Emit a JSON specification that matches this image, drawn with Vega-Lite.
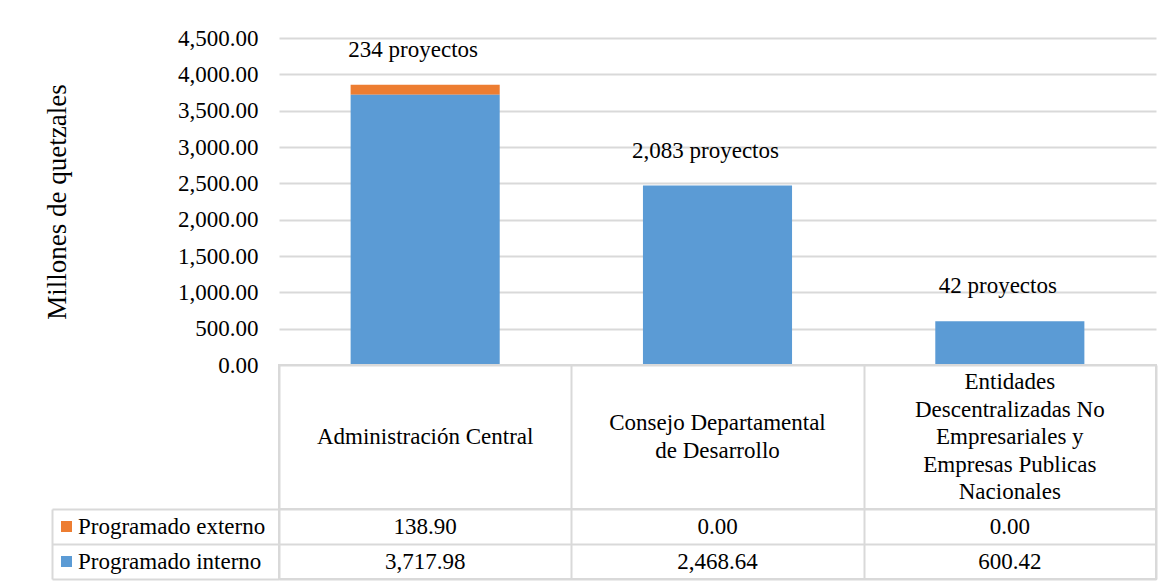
{
  "$schema": "https://vega.github.io/schema/vega-lite/v6.json",
  "padding": {"left": 43, "top": 27, "right": 0, "bottom": 0},
  "background": "white",
  "config": {"font": "Liberation Serif", "view": {"stroke": null}},
  "datasets": {
    "d": [
      {"cat": "Administración Central", "serie": "Programado externo", "value": 138.90, "proyectos": "234 proyectos"},
      {"cat": "Administración Central", "serie": "Programado interno", "value": 3717.98, "proyectos": "234 proyectos"},
      {"cat": "Consejo Departamental\nde Desarrollo", "serie": "Programado externo", "value": 0.00, "proyectos": "2,083 proyectos"},
      {"cat": "Consejo Departamental\nde Desarrollo", "serie": "Programado interno", "value": 2468.64, "proyectos": "2,083 proyectos"},
      {"cat": "Entidades\nDescentralizadas No\nEmpresariales y\nEmpresas Publicas\nNacionales", "serie": "Programado externo", "value": 0.00, "proyectos": "42 proyectos"},
      {"cat": "Entidades\nDescentralizadas No\nEmpresariales y\nEmpresas Publicas\nNacionales", "serie": "Programado interno", "value": 600.42, "proyectos": "42 proyectos"}
    ]
  },
  "spacing": 0,
  "bounds": "flush",
  "resolve": {"scale": {"x": "independent", "y": "independent"}, "legend": {"color": "independent"}},
  "vconcat": [
    {
      "width": 877,
      "height": 327,
      "data": {"name": "d"},
      "layer": [
        {
          "mark": {"type": "bar"},
          "encoding": {
            "x": {"field": "cat", "type": "nominal", "scale": {"domain": ["Administración Central", "Consejo Departamental\nde Desarrollo", "Entidades\nDescentralizadas No\nEmpresariales y\nEmpresas Publicas\nNacionales"], "paddingInner": 0.49, "paddingOuter": 0.245}, "axis": null},
            "y": {"field": "value", "type": "quantitative", "stack": "zero", "scale": {"domain": [0, 4500], "nice": false},
              "axis": {"values": [0, 500, 1000, 1500, 2000, 2500, 3000, 3500, 4000, 4500], "format": ",.2f", "domain": false, "ticks": false, "grid": true, "gridColor": "#d9d9d9", "gridWidth": 2, "labelFont": "Liberation Serif", "labelFontSize": 23, "labelColor": "#000000", "labelPadding": 21, "labelOverlap": false, "title": "Millones de quetzales", "titleFont": "Liberation Serif", "titleFontSize": 27, "titleFontWeight": "normal", "titleColor": "#000000", "titlePadding": 106}},
            "color": {"field": "serie", "type": "nominal", "scale": {"domain": ["Programado externo", "Programado interno"], "range": ["#ED7D31", "#5B9BD5"]}, "legend": null},
            "order": {"field": "serie", "sort": "descending"}
          }
        },
        {
          "transform": [{"aggregate": [{"op": "sum", "field": "value", "as": "total"}], "groupby": ["cat", "proyectos"]}],
          "mark": {"type": "text", "dy": -35, "dx": -12, "fontSize": 23, "baseline": "middle", "color": "#000000"},
          "encoding": {
            "x": {"field": "cat", "type": "nominal"},
            "y": {"field": "total", "type": "quantitative", "scale": {"domain": [0, 4500], "nice": false},
              "axis": {"values": [0, 500, 1000, 1500, 2000, 2500, 3000, 3500, 4000, 4500], "format": ",.2f", "domain": false, "ticks": false, "grid": true, "gridColor": "#d9d9d9", "gridWidth": 2, "labelFont": "Liberation Serif", "labelFontSize": 23, "labelColor": "#000000", "labelPadding": 21, "labelOverlap": false, "title": "Millones de quetzales", "titleFont": "Liberation Serif", "titleFontSize": 27, "titleFontWeight": "normal", "titleColor": "#000000", "titlePadding": 106}},
            "text": {"field": "proyectos"}
          }
        }
      ]
    },
    {
      "width": 877,
      "height": 144,
      "view": {"stroke": "#d9d9d9", "strokeWidth": 2},
      "data": {"name": "d"},
      "transform": [
        {"filter": {"field": "serie", "equal": "Programado interno"}},
        {"calculate": "length(split(datum.cat, '\\n'))", "as": "lineas"}
      ],
      "mark": {"type": "text", "fontSize": 23, "lineBreak": "\n", "lineHeight": 27.5, "baseline": "middle", "color": "#000000"},
      "encoding": {
        "x": {"field": "cat", "type": "nominal", "scale": {"domain": ["Administración Central", "Consejo Departamental\nde Desarrollo", "Entidades\nDescentralizadas No\nEmpresariales y\nEmpresas Publicas\nNacionales"], "paddingInner": 0, "paddingOuter": 0},
          "axis": {"orient": "bottom", "title": null, "labels": false, "ticks": true, "tickSize": -144, "tickColor": "#d9d9d9", "tickWidth": 2, "tickBand": "extent", "domain": false, "grid": false}},
        "y": {"field": "lineas", "type": "quantitative", "scale": {"domain": [1, 5], "range": [72, 17], "zero": false, "nice": false}, "axis": null},
        "text": {"field": "cat"}
      }
    },
    {
      "width": 877,
      "height": 70,
      "view": {"stroke": "#d9d9d9", "strokeWidth": 2},
      "data": {"name": "d"},
      "encoding": {
        "x": {"field": "cat", "type": "nominal", "scale": {"domain": ["Administración Central", "Consejo Departamental\nde Desarrollo", "Entidades\nDescentralizadas No\nEmpresariales y\nEmpresas Publicas\nNacionales"], "paddingInner": 0, "paddingOuter": 0},
          "axis": {"title": null, "labels": false, "ticks": false, "domain": false, "grid": true, "tickBand": "extent", "gridColor": "#d9d9d9", "gridWidth": 2}},
        "y": {"field": "serie", "type": "nominal", "scale": {"domain": ["Programado externo", "Programado interno"], "paddingInner": 0, "paddingOuter": 0},
          "axis": {"title": null, "labels": false, "domain": true, "domainColor": "#d9d9d9", "domainWidth": 2, "ticks": true, "tickSize": -227, "tickColor": "#d9d9d9", "tickWidth": 2, "tickBand": "extent", "offset": 227, "grid": true, "gridColor": "#d9d9d9", "gridWidth": 2}}
      },
      "layer": [
        {
          "mark": {"type": "text", "fontSize": 23, "baseline": "middle", "color": "#000000"},
          "encoding": {"text": {"field": "value", "type": "quantitative", "format": ",.2f"}}
        },
        {
          "mark": {"type": "square", "opacity": 0},
          "encoding": {
            "color": {"field": "serie", "type": "nominal", "scale": {"domain": ["Programado externo", "Programado interno"], "range": ["#ED7D31", "#5B9BD5"]},
              "legend": {"orient": "none", "legendX": -224, "legendY": 6, "title": null, "symbolType": "square", "symbolSize": 121, "labelFont": "Liberation Serif", "labelFontSize": 23, "labelColor": "#000000", "labelLimit": 400, "rowPadding": 11, "labelOffset": 0, "padding": 0, "symbolStrokeWidth": 0, "symbolOpacity": 1}}
          }
        }
      ]
    }
  ]
}
